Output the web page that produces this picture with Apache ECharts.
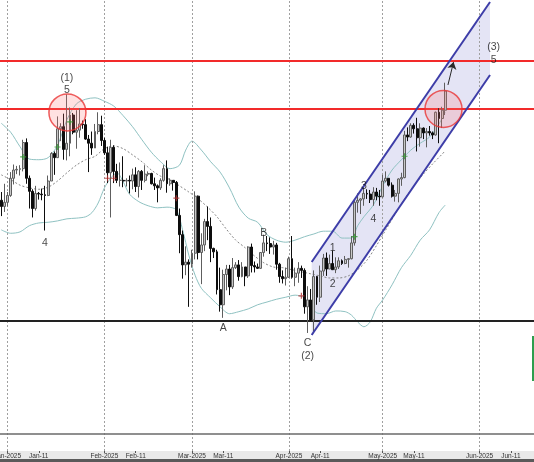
<!DOCTYPE html>
<html><head><meta charset="utf-8">
<script src="https://cdn.jsdelivr.net/npm/echarts@6/dist/echarts.min.js"></script>
<style>html,body{margin:0;padding:0;background:#fff;overflow:hidden}#c{width:534px;height:462px}</style>
</head><body><div id="c"></div>
<script>
// ---- data (prices in thousands) ----
const dates=['2024-12-29','2024-12-30','2024-12-31',
'2025-01-01','2025-01-02','2025-01-03','2025-01-04','2025-01-05','2025-01-06','2025-01-07','2025-01-08','2025-01-09','2025-01-10','2025-01-11','2025-01-12','2025-01-13','2025-01-14','2025-01-15','2025-01-16','2025-01-17','2025-01-18','2025-01-19','2025-01-20','2025-01-21','2025-01-22','2025-01-23','2025-01-24','2025-01-25','2025-01-26','2025-01-27','2025-01-28','2025-01-29','2025-01-30','2025-01-31',
'2025-02-01','2025-02-02','2025-02-03','2025-02-04','2025-02-05','2025-02-06','2025-02-07','2025-02-08','2025-02-09','2025-02-10','2025-02-11','2025-02-12','2025-02-13','2025-02-14','2025-02-15','2025-02-16','2025-02-17','2025-02-18','2025-02-19','2025-02-20','2025-02-21','2025-02-22','2025-02-23','2025-02-24','2025-02-25','2025-02-26','2025-02-27','2025-02-28',
'2025-03-01','2025-03-02','2025-03-03','2025-03-04','2025-03-05','2025-03-06','2025-03-07','2025-03-08','2025-03-09','2025-03-10','2025-03-11','2025-03-12','2025-03-13','2025-03-14','2025-03-15','2025-03-16','2025-03-17','2025-03-18','2025-03-19','2025-03-20','2025-03-21','2025-03-22','2025-03-23','2025-03-24','2025-03-25','2025-03-26','2025-03-27','2025-03-28','2025-03-29','2025-03-30','2025-03-31',
'2025-04-01','2025-04-02','2025-04-03','2025-04-04','2025-04-05','2025-04-06','2025-04-07','2025-04-08','2025-04-09','2025-04-10','2025-04-11','2025-04-12','2025-04-13','2025-04-14','2025-04-15','2025-04-16','2025-04-17','2025-04-18','2025-04-19','2025-04-20','2025-04-21','2025-04-22','2025-04-23','2025-04-24','2025-04-25','2025-04-26','2025-04-27','2025-04-28','2025-04-29','2025-04-30',
'2025-05-01','2025-05-02','2025-05-03','2025-05-04','2025-05-05','2025-05-06','2025-05-07','2025-05-08','2025-05-09','2025-05-10','2025-05-11','2025-05-12','2025-05-13','2025-05-14','2025-05-15','2025-05-16','2025-05-17','2025-05-18','2025-05-19','2025-05-20','2025-05-21'];
const open=[95.3,93.7,92.8,
93.4,94.4,96.9,98.1,98.2,98.3,102.1,96.9,95.0,92.5,94.7,94.6,94.5,94.4,96.5,100.5,99.9,104.1,104.4,101.1,102.0,106.1,103.6,103.9,104.8,104.7,102.6,102.0,101.3,103.7,104.7,
102.4,100.6,97.7,101.4,97.9,96.6,96.6,96.5,96.6,96.5,97.4,95.7,97.9,96.6,97.5,97.6,96.1,95.8,95.5,96.6,98.3,96.1,96.6,96.3,91.5,88.7,84.3,84.7,
84.4,86.0,94.3,86.1,87.2,90.6,89.9,86.7,86.2,80.7,78.5,82.9,83.7,81.1,83.9,84.3,82.6,84.0,82.7,86.9,84.2,84.0,83.8,86.1,87.5,87.4,86.9,87.2,84.4,82.6,82.3,
82.5,85.2,82.5,83.1,83.8,83.5,78.2,79.2,76.3,82.6,79.6,83.4,85.3,83.7,84.5,83.6,84.0,84.9,84.5,85.1,85.2,87.5,93.4,93.7,93.9,94.7,94.6,93.8,94.9,94.3,
94.2,96.5,96.9,95.9,94.3,94.7,96.8,97.0,103.2,102.9,104.6,104.1,102.8,104.2,103.5,103.7,103.5,103.2,106.5,105.6,106.8];
const close=[93.7,92.8,93.4,
94.4,96.9,98.1,98.2,98.3,102.1,96.9,95.0,92.5,94.7,94.6,94.5,94.4,96.5,100.5,99.9,104.1,104.4,101.1,102.0,106.1,103.6,103.9,104.8,104.7,102.6,102.0,101.3,103.7,104.7,102.4,
100.6,97.7,101.4,97.9,96.6,96.6,96.5,96.6,96.5,97.4,95.7,97.9,96.6,97.5,97.6,96.1,95.8,95.5,96.6,98.3,96.1,96.6,96.3,91.5,88.7,84.3,84.7,84.4,
86.0,94.3,86.1,87.2,90.6,89.9,86.7,86.2,80.7,78.5,82.9,83.7,81.1,83.9,84.3,82.6,84.0,82.7,86.9,84.2,84.0,83.8,86.1,87.5,87.4,86.9,87.2,84.4,82.6,82.3,82.5,
85.2,82.5,83.1,83.8,83.5,78.2,79.2,76.3,82.6,79.6,83.4,85.3,83.7,84.5,83.6,84.0,84.9,84.5,85.1,85.2,87.5,93.4,93.7,93.9,94.7,94.6,93.8,94.9,94.3,94.2,
96.5,96.9,95.9,94.3,94.7,96.8,97.0,103.2,102.9,104.6,104.1,102.8,104.2,103.5,103.7,103.5,103.2,106.5,105.6,106.8,109.6];
const high=[95.3,94.9,96.1,
94.9,97.8,98.9,98.7,98.8,102.5,102.7,97.3,95.3,95.8,94.9,95.4,95.8,97.3,100.7,100.8,105.9,104.9,106.3,109.1,107.2,106.4,106.8,107.1,105.3,105.5,103.2,103.7,104.8,106.5,106.0,
102.8,101.5,102.5,101.7,99.0,99.2,100.1,96.9,97.3,98.3,98.5,98.1,98.1,98.8,97.9,97.7,97.0,96.0,96.9,98.8,99.5,96.9,96.6,96.5,92.5,89.3,87.0,85.1,
86.5,95.0,94.4,88.9,91.0,92.8,91.2,86.8,86.5,83.9,83.6,84.3,84.3,85.3,84.7,85.0,84.7,84.0,87.0,87.4,84.8,84.5,86.1,88.7,88.5,88.3,87.8,87.5,84.6,83.5,83.9,
85.5,88.5,83.9,84.7,84.2,83.8,81.2,80.8,83.5,82.7,84.2,85.9,86.1,85.8,86.4,85.4,85.4,85.1,85.6,85.3,88.5,93.8,94.7,94.0,95.8,95.3,95.2,95.6,95.5,95.2,
97.4,97.9,96.9,96.3,95.2,96.9,97.7,103.8,104.3,104.9,104.9,105.7,104.9,104.3,104.2,104.5,103.7,106.6,107.1,107.3,110.8];
const low=[92.9,91.4,92.0,
92.8,94.2,96.0,97.5,97.3,97.9,96.1,92.5,91.2,92.2,93.8,93.7,89.3,94.3,96.5,97.4,99.9,102.3,99.6,99.5,100.1,103.3,101.2,102.8,104.1,102.5,97.8,100.3,101.3,103.3,101.6,
100.3,96.2,91.2,96.2,96.2,95.7,95.6,95.7,94.7,95.3,94.9,94.1,95.2,96.3,97.2,96.0,95.2,93.4,95.2,96.4,94.8,95.8,95.1,91.4,86.0,82.3,82.8,78.2,
83.9,85.1,85.1,81.5,86.3,87.9,84.7,85.3,80.0,77.5,76.6,80.6,79.9,80.8,83.7,82.0,82.5,81.2,82.4,83.2,83.2,83.7,83.7,85.5,86.3,85.9,85.8,83.6,81.7,81.6,81.3,
82.4,82.3,81.2,81.7,82.4,77.2,74.4,76.2,74.6,78.5,78.9,82.7,82.7,83.7,83.6,83.1,83.7,84.3,84.4,83.9,85.1,87.1,91.9,91.7,92.9,93.9,93.3,92.9,93.7,92.9,
94.1,96.3,95.7,94.1,93.5,93.4,95.8,96.9,102.3,102.8,103.4,100.8,101.5,102.6,101.4,103.1,102.6,103.1,102.0,104.2,106.1];

// Bollinger bands
const upperDates=['2024-12-30','2025-01-02','2025-01-05','2025-01-08','2025-01-11','2025-01-14','2025-01-17','2025-01-20','2025-01-23','2025-01-26','2025-01-29','2025-02-01','2025-02-04','2025-02-07','2025-02-10','2025-02-13','2025-02-16','2025-02-19','2025-02-22','2025-02-25','2025-02-27','2025-03-01','2025-03-04','2025-03-07','2025-03-10','2025-03-13','2025-03-16','2025-03-19','2025-03-22','2025-03-25','2025-03-28','2025-03-31','2025-04-03','2025-04-06','2025-04-09','2025-04-12','2025-04-15','2025-04-18','2025-04-21','2025-04-23','2025-04-25','2025-04-28','2025-05-01','2025-05-04','2025-05-07','2025-05-10','2025-05-13','2025-05-16','2025-05-19','2025-05-21'];
const upperVals=[104.9,103.6,101.5,99.7,99.6,99.9,101.7,105.4,107.7,108.4,108.6,108.1,107.4,106.0,104.4,102.5,100.7,99.3,98.3,98.8,101.0,102.3,101.0,99.3,97.8,95.5,92.7,91.1,90.5,88.7,87.9,87.6,87.9,88.4,88.8,89.2,89.2,88.2,88.2,90.0,91.3,93.0,95.8,98.1,99.6,101.0,102.0,102.9,104.8,106.5];
const midDates=['2024-12-30','2025-01-02','2025-01-05','2025-01-08','2025-01-11','2025-01-14','2025-01-17','2025-01-20','2025-01-23','2025-01-26','2025-01-29','2025-02-01','2025-02-04','2025-02-07','2025-02-10','2025-02-13','2025-02-16','2025-02-19','2025-02-22','2025-02-25','2025-02-28','2025-03-03','2025-03-06','2025-03-09','2025-03-12','2025-03-15','2025-03-18','2025-03-21','2025-03-24','2025-03-27','2025-03-30','2025-04-02','2025-04-05','2025-04-08','2025-04-11','2025-04-14','2025-04-17','2025-04-20','2025-04-23','2025-04-26','2025-04-29','2025-05-02','2025-05-05','2025-05-08','2025-05-11','2025-05-14','2025-05-17','2025-05-20','2025-05-21'];
const midVals=[97.4,96.7,95.9,95.5,95.3,95.6,96.5,97.7,98.8,99.6,100.1,101.2,101.6,101.2,100.3,99.3,98.1,97.2,96.7,95.8,94.9,93.9,92.7,91.3,89.5,87.9,86.8,85.6,84.6,84.0,83.9,83.6,83.3,83.0,82.7,82.4,82.4,82.7,83.6,85.0,87.1,89.4,91.7,93.9,95.8,97.5,99.0,100.4,100.9];
const lowerDates=['2024-12-30','2025-01-02','2025-01-05','2025-01-08','2025-01-11','2025-01-14','2025-01-17','2025-01-20','2025-01-23','2025-01-26','2025-01-28','2025-01-30','2025-02-01','2025-02-03','2025-02-05','2025-02-07','2025-02-09','2025-02-12','2025-02-15','2025-02-18','2025-02-21','2025-02-24','2025-02-26','2025-02-28','2025-03-02','2025-03-04','2025-03-07','2025-03-10','2025-03-13','2025-03-16','2025-03-19','2025-03-22','2025-03-25','2025-03-28','2025-03-31','2025-04-03','2025-04-06','2025-04-08','2025-04-10','2025-04-13','2025-04-16','2025-04-19','2025-04-21','2025-04-23','2025-04-25','2025-04-27','2025-04-29','2025-05-01','2025-05-04','2025-05-07','2025-05-10','2025-05-13','2025-05-16','2025-05-19','2025-05-21'];
const lowerVals=[89.4,88.9,89.1,90.0,90.4,90.5,90.7,91.0,91.1,91.3,91.9,93.3,95.5,96.9,97.7,96.4,94.6,93.5,92.9,92.6,92.7,92.3,89.4,85.7,82.8,80.9,79.5,78.2,77.2,77.5,77.9,78.5,78.9,79.3,79.6,79.9,79.5,78.3,77.3,77.2,77.6,77.5,77.0,76.0,75.3,76.0,78.0,79.2,81.4,83.9,85.7,87.9,89.4,91.9,93.0];

// levels, channel, signals, annotations
const redLevels=[114.0,107.0];
const supportLevel=76.15;
const paneLine=59.8;
const monthStarts=['2025-01-01','2025-02-01','2025-03-01','2025-04-01','2025-05-01','2025-06-01'];
const tickDates=['2025-01-01','2025-01-11','2025-02-01','2025-02-11','2025-03-01','2025-03-11','2025-04-01','2025-04-11','2025-05-01','2025-05-11','2025-06-01','2025-06-11'];
const tickLabels=['Jan-2025','Jan-11','Feb-2025','Feb-11','Mar-2025','Mar-11','Apr-2025','Apr-11','May-2025','May-11','Jun-2025','Jun-11'];
const chanDates=['2025-04-08 07:00','2025-06-04 08:00'];
const chanUpper=[84.72,122.54];
const chanLower=[74.10,111.92];
const buyDates=['2025-01-06','2025-01-17','2025-01-21','2025-04-22','2025-05-08'];
const buyVals=[100.0,101.45,105.1,88.4,100.1];
const sellDates=['2025-02-02','2025-02-04','2025-02-24','2025-04-05'];
const sellVals=[96.9,96.9,94.0,79.8];
const noteTexts=['(1)','5','4','B','A','C','(2)','1','2','3','4','(3)','5'];
const noteDates=['2025-01-20','2025-01-20','2025-01-13','2025-03-24','2025-03-11','2025-04-07','2025-04-07','2025-04-15','2025-04-15','2025-04-25','2025-04-28','2025-06-05 12:00','2025-06-05 12:00'];
const noteVals=[111.5,109.7,87.5,88.9,75.1,72.9,71.05,86.8,81.5,95.8,91.0,116.0,114.1];
const circleDates=['2025-01-20 04:00','2025-05-20 11:00'];
const circleVals=[106.47,106.98];
const arrowDates=['2025-05-21 21:00','2025-05-23 16:00'];
const arrowVals=[110.47,113.8];

// ---- chart ----
function ts(s){const [d,t]=s.split(' ');const [y,m,dd]=d.split('-').map(Number);let h=0,mi=0;if(t){[h,mi]=t.split(':').map(Number);}return Date.UTC(y,m-1,dd,h,mi);}
const candles=dates.map((d,i)=>[ts(d),open[i],close[i],low[i],high[i]]);
const pair=(ds,vs)=>ds.map((d,i)=>[ts(d),vs[i]]);
const chanPoly=[[ts(chanDates[0]),chanUpper[0]],[ts(chanDates[1]),chanUpper[1]],[ts(chanDates[1]),chanLower[1]],[ts(chanDates[0]),chanLower[0]]];
const plusPath='path://M4,0H6V4H10V6H6V10H4V6H0V4H4Z';
const FONT='Liberation Sans, Arial, sans-serif';
const tickTs=tickDates.map(ts);

const chart=echarts.init(document.getElementById('c'),null,{renderer:'canvas'});
chart.setOption({
  animation:false,
  backgroundColor:'#fff',
  graphic:[
    {type:'rect',shape:{x:0,y:451,width:534,height:9},style:{fill:'#e9e9e9'},z:-10},
    {type:'rect',shape:{x:0,y:459,width:534,height:3},style:{fill:'#5a5a5a'},z:-10},
    {type:'rect',shape:{x:532,y:336,width:2,height:45},style:{fill:'#2e9e4e'},z:10}
  ],
  grid:{left:0,right:0,top:0,bottom:11,containLabel:false,outerBoundsMode:'none'},
  xAxis:{type:'value',min:ts('2024-12-29 14:24'),max:ts('2025-06-18 09:36'),
    axisLine:{show:false},splitLine:{show:false},
    axisTick:{show:true,customValues:tickTs,length:2,lineStyle:{color:'#555'}},
    axisLabel:{show:true,customValues:tickTs,margin:2,fontSize:6.5,color:'#333',fontFamily:FONT,
      formatter:(v)=>{const i=tickTs.indexOf(v);return i>=0?tickLabels[i]:'';}}
  },
  yAxis:{type:'value',min:57.23,max:122.83,show:false,splitLine:{show:false}},
  series:[
    {type:'line',data:[],silent:true,z:1,
      markLine:{silent:true,symbol:['none','none'],label:{show:false},animation:false,
        data:[
          ...monthStarts.map(d=>({xAxis:ts(d),lineStyle:{color:'#a0a0a0',type:[2,2],width:1}})),
          {yAxis:paneLine,lineStyle:{color:'#6a6a6a',type:'solid',width:1.5}}
        ]}},
    {type:'custom',silent:true,z:2,data:[[ts(chanDates[0]),chanLower[0]]],
      renderItem:(p,api)=>({type:'polygon',shape:{points:chanPoly.map(q=>api.coord(q))},style:{fill:'rgba(196,196,232,0.45)'}})},
    {type:'line',data:pair(upperDates,upperVals),symbol:'none',smooth:0.3,z:3,lineStyle:{color:'#8fc2c2',width:1}},
    {type:'line',data:pair(lowerDates,lowerVals),symbol:'none',smooth:0.3,z:3,lineStyle:{color:'#8fc2c2',width:1}},
    {type:'line',data:pair(midDates,midVals),symbol:'none',smooth:0.3,z:3,lineStyle:{color:'#858585',width:1,type:[2,2]}},
    {type:'candlestick',data:candles,encode:{x:0,y:[1,2,3,4]},barWidth:2.4,z:5,
      itemStyle:{color:'#c8c8c8',color0:'#0d0d0d',borderColor:'#5e5e5e',borderColor0:'#0d0d0d',borderWidth:1}},
    {type:'line',data:[],silent:true,z:6,
      markLine:{silent:true,symbol:['none','none'],label:{show:false},animation:false,
        data:[
          ...redLevels.map(v=>({yAxis:v,lineStyle:{color:'#f22a2a',type:'solid',width:2}})),
          {yAxis:supportLevel,lineStyle:{color:'#222',type:'solid',width:2}}
        ]}},
    {type:'line',data:[[ts(chanDates[0]),chanUpper[0]],[ts(chanDates[1]),chanUpper[1]]],symbol:'none',z:7,lineStyle:{color:'#3d3da8',width:2}},
    {type:'line',data:[[ts(chanDates[0]),chanLower[0]],[ts(chanDates[1]),chanLower[1]]],symbol:'none',z:7,lineStyle:{color:'#3d3da8',width:2}},
    {type:'scatter',data:pair(circleDates,circleVals),symbol:'circle',symbolSize:37,z:8,silent:true,
      itemStyle:{color:'rgba(255,120,120,0.28)',borderColor:'#ea3535',borderWidth:1.5}},
    {type:'scatter',data:pair(buyDates,buyVals),symbol:plusPath,symbolSize:6,z:9,itemStyle:{color:'#2f9a2f'}},
    {type:'scatter',data:pair(sellDates,sellVals),symbol:plusPath,symbolSize:6,z:9,itemStyle:{color:'#b83232'}},
    {type:'lines',coordinateSystem:'cartesian2d',z:9,symbol:['none','arrow'],symbolSize:7,
      data:[{coords:pair(arrowDates,arrowVals)}],lineStyle:{color:'#2a2a2a',width:1,opacity:1},effect:{show:false}},
    {type:'scatter',z:10,silent:true,symbolSize:1,itemStyle:{color:'rgba(0,0,0,0)'},
      data:noteDates.map((d,i)=>({value:[ts(d),noteVals[i]],t:noteTexts[i]})),
      label:{show:true,position:'inside',formatter:p=>p.data.t,color:'#151515',fontSize:10.5,fontFamily:FONT}}
  ]
});
</script></body></html>
